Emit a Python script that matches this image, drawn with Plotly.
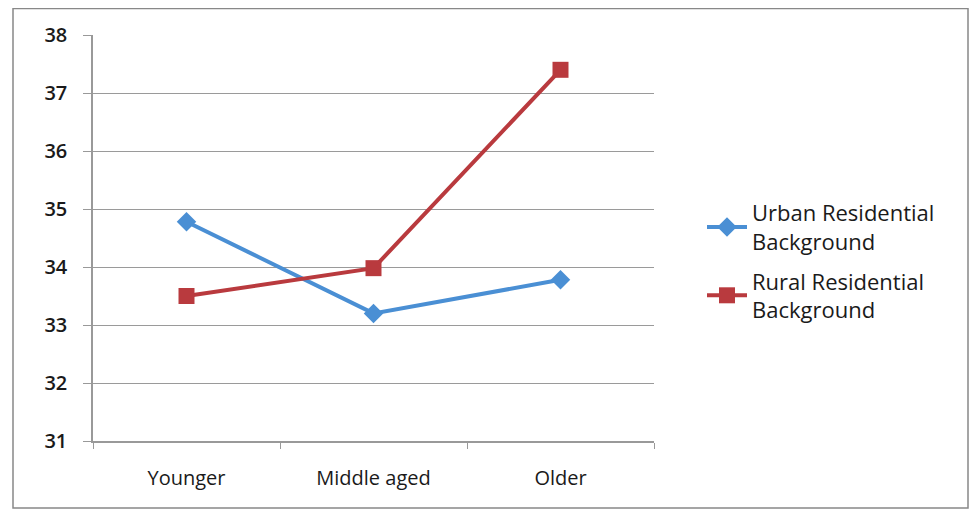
import plotly.graph_objects as go

categories = ["Younger", "Middle aged", "Older"]
urban = [34.78, 33.2, 33.78]
rural = [33.5, 33.98, 37.4]
y_ticks = [31, 32, 33, 34, 35, 36, 37, 38]

fig = go.Figure()
fig.add_trace(go.Scatter(
    x=categories, y=urban, mode="lines+markers",
    name="Urban Residential<br>Background", legendgroup="u",
    line=dict(color="#4a8fd4", width=4),
    marker=dict(symbol="diamond", size=15, color="#4a8fd4"),
))
fig.add_trace(go.Scatter(
    x=categories, y=rural, mode="lines+markers",
    name="Rural Residential<br>Background", legendgroup="r",
    line=dict(color="#b93a3e", width=4),
    marker=dict(symbol="square", size=16, color="#b93a3e"),
))

OFF = 8  # page body margin
W, H = 977 - OFF, 515 - OFF
# plot area in page pixels
PL, PR, PT, PB = 93, 654, 35, 441
L, T = PL - OFF, PT - OFF
R, B = W - (PR - OFF), H - (PB - OFF)
pw, ph = PR - PL, PB - PT

def px(x):
    return (x - PL) / pw

def py(y):
    return (PB - y) / ph

fig.update_layout(
    width=W, height=H,
    margin=dict(l=L, r=R, t=T, b=B, autoexpand=False),
    paper_bgcolor="white", plot_bgcolor="white",
    font=dict(family="Open Sans, Liberation Sans, sans-serif", color="#1a1a1a"),
    showlegend=True,
    legend=dict(
        x=px(702), y=py(192), xanchor="left", yanchor="top",
        font=dict(size=22, color="#1a1a1a", weight=500),
        bgcolor="rgba(0,0,0,0)", traceorder="grouped", tracegroupgap=8,
        itemwidth=40,
    ),
    xaxis=dict(
        type="category", range=[-0.5, 2.5],
        tickson="boundaries", ticks="outside", ticklen=6, tickcolor="#999999",
        showline=True, linecolor="#999999", linewidth=1.5,
        showgrid=False, zeroline=False,
        tickfont=dict(size=20, color="#1a1a1a", weight=500),
        ticklabelstandoff=18, automargin=False,
    ),
    yaxis=dict(
        range=[31, 38], tickvals=y_ticks, ticks="outside", ticklen=8,
        tickcolor="#999999",
        showline=True, linecolor="#999999", linewidth=1.5,
        showgrid=True, gridcolor="#9a9a9a", gridwidth=1.2,
        zeroline=False,
        tickfont=dict(size=20, color="#1a1a1a", weight=600),
        ticklabelstandoff=12, automargin=False,
    ),
    shapes=[dict(
        type="rect", xref="paper", yref="paper",
        x0=px(13), x1=px(968), y0=py(508), y1=py(8.5),
        line=dict(color="#888888", width=1.5), fillcolor="rgba(0,0,0,0)",
        layer="below",
    )],
)

fig.write_html("out.html")
